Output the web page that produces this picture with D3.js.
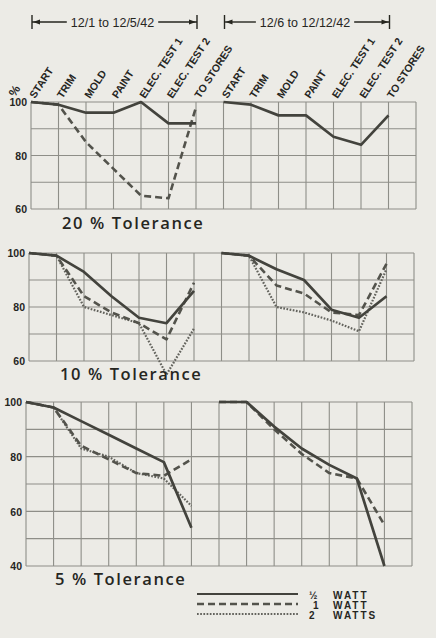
<!DOCTYPE html>
<html>
<head>
<meta charset="utf-8">
<script src="https://cdn.jsdelivr.net/npm/d3@7"></script>
<style>
  html, body { margin: 0; padding: 0; background: #ecebe6; }
  svg { display: block; }
</style>
</head>
<body>
<svg id="chart" width="436" height="638"></svg>
<script>
// Process stages, repeated for each production period
const categories = ["START", "TRIM", "MOLD", "PAINT", "ELEC. TEST 1", "ELEC. TEST 2", "TO STORES"];
const periods = ["12/1 to 12/5/42", "12/6 to 12/12/42"];
const tolerances = ["20 % Tolerance", "10 % Tolerance", "5 % Tolerance"];
const wattSizes = ["½", "1", "2"];
const wattUnits = ["WATT", "WATT", "WATTS"];

// Y tick labels per panel
const yTicks20 = [60, 80, 100];
const yTicks10 = [60, 80, 100];
const yTicks5 = [40, 60, 80, 100];

// Percent of resistors within tolerance at each stage
// 20 % tolerance
const tol20HalfWattP1 = [100, 99, 96, 96, 100, 92, 92];
const tol20HalfWattP2 = [100, 99, 95, 95, 87, 84, 95];
const tol20OneWattP1  = [100, 99, 85, 75, 65, 64, 98];
// 10 % tolerance
const tol10HalfWattP1  = [100, 99, 93, 84, 76, 74, 86];
const tol10HalfWattP2  = [100, 99, 94, 90, 79, 76, 84];
const tol10OneWattP1   = [100, 99, 84, 78, 74, 68, 89];
const tol10OneWattP2   = [100, 99, 88, 85, 78, 77, 96];
const tol10TwoWattsP1  = [100, 99, 80, 77, 74, 55, 72];
const tol10TwoWattsP2  = [100, 99, 80, 78, 75, 71, 94];
// 5 % tolerance
const tol5HalfWattP1  = [100, 98, 93, 88, 83, 78, 54];
const tol5HalfWattP2  = [100, 100, 91, 83, 77, 72, 40];
const tol5OneWattP1   = [100, 98, 84, 79, 74, 73, 79];
const tol5OneWattP2   = [100, 100, 90, 81, 74, 72, 55];
const tol5TwoWattsP1  = [100, 98, 83, 80, 74, 72, 62];

// series index: 0 = ½ watt, 1 = 1 watt, 2 = 2 watts; each holds [period 1, period 2]
const panels = [
  { title: tolerances[0], ticks: yTicks20,
    series: [[tol20HalfWattP1, tol20HalfWattP2], [tol20OneWattP1, null], [null, null]] },
  { title: tolerances[1], ticks: yTicks10,
    series: [[tol10HalfWattP1, tol10HalfWattP2], [tol10OneWattP1, tol10OneWattP2], [tol10TwoWattsP1, tol10TwoWattsP2]] },
  { title: tolerances[2], ticks: yTicks5,
    series: [[tol5HalfWattP1, tol5HalfWattP2], [tol5OneWattP1, tol5OneWattP2], [tol5TwoWattsP1, null]] }
];

// Panel geometry
const layout = [
  { x0: 31, x1: 416, yTop: 102, yBot: 209, titleX: 62, titleY: 229 },
  { x0: 29, x1: 414, yTop: 253, yBot: 361, titleX: 60, titleY: 380 },
  { x0: 26, x1: 412, yTop: 402, yBot: 566, titleX: 55, titleY: 585 }
];

const lineStyles = [
  { dash: null,      width: 2.7, color: "#43433d" },
  { dash: "7,4",     width: 2.6, color: "#53534c" },
  { dash: "1.7,1.5", width: 2.2, color: "#63635d" }
];

const ink = "#26261f";
const gridColor = "#8e8e88";
const svg = d3.select("#chart");

const keys = periods.flatMap((p, pi) => categories.map((c, ci) => pi + "|" + ci));

panels.forEach((panel, idx) => {
  const L = layout[idx];
  const step = (L.x1 - L.x0) / keys.length;
  const x = d3.scalePoint().domain(keys).range([L.x0, L.x1 - step]);
  const yMin = d3.min(panel.ticks);
  const y = d3.scaleLinear().domain([yMin, 100]).range([L.yBot, L.yTop]);
  const g = svg.append("g");

  // grid
  const hVals = d3.range(yMin, 100.001, 10);
  g.selectAll("line.h").data(hVals).join("line")
    .attr("x1", L.x0).attr("x2", L.x1)
    .attr("y1", d => y(d)).attr("y2", d => y(d))
    .attr("stroke", gridColor).attr("stroke-width", 1.1);
  const vPos = keys.map(k => x(k)).concat([L.x1]);
  g.selectAll("line.v").data(vPos).join("line")
    .attr("x1", d => d).attr("x2", d => d)
    .attr("y1", y(100)).attr("y2", y(yMin))
    .attr("stroke", gridColor).attr("stroke-width", 1.1);

  // y axis labels
  const axis = d3.axisLeft(y).tickValues(panel.ticks).tickSize(0).tickPadding(4).tickFormat(d3.format("d"));
  const ag = g.append("g").attr("transform", `translate(${L.x0},0)`).call(axis);
  ag.select(".domain").remove();
  ag.selectAll("text")
    .attr("fill", ink)
    .style("font-family", "'Liberation Sans', Arial, sans-serif")
    .style("font-weight", "bold")
    .style("font-size", "10.5px")
    .attr("dy", "0.35em");

  // series lines (dotted first, solid on top)
  [2, 1, 0].forEach(si => {
    panel.series[si].forEach((vals, pi) => {
      if (!vals) return;
      const line = d3.line()
        .x((d, ci) => x(pi + "|" + ci))
        .y(d => y(d));
      const st = lineStyles[si];
      g.append("path")
        .attr("d", line(vals))
        .attr("fill", "none")
        .attr("stroke", st.color)
        .attr("stroke-width", st.width)
        .attr("stroke-dasharray", st.dash)
        .attr("stroke-linejoin", "round");
    });
  });

  // panel title
  g.append("text")
    .attr("x", L.titleX).attr("y", L.titleY)
    .attr("fill", ink)
    .style("font-family", "'Open Sans', 'DejaVu Sans', sans-serif")
    .style("font-weight", 600)
    .style("font-size", "16.5px")
    .style("letter-spacing", "1.6px")
    .text(panel.title);

  // top panel: stage labels and period brackets
  if (idx === 0) {
    g.selectAll("text.cat").data(keys).join("text")
      .attr("transform", d => `translate(${x(d) + 4},${L.yTop - 3}) rotate(-57)`)
      .attr("fill", ink)
      .style("font-family", "'Liberation Sans', Arial, sans-serif")
      .style("font-weight", "bold")
      .style("font-size", "10.5px")
      .text(d => categories[+d.split("|")[1]]);

    g.append("text")
      .attr("transform", `translate(18,93) rotate(-57)`)
      .attr("text-anchor", "middle")
      .attr("fill", ink)
      .style("font-family", "'Liberation Sans', Arial, sans-serif")
      .style("font-weight", "bold")
      .style("font-size", "12px")
      .text("%");

    const by = 22;
    periods.forEach((p, pi) => {
      const xa = x(pi + "|0") + 1;
      const xb = x(pi + "|" + (categories.length - 1)) + 1;
      const mid = (xa + xb) / 2 - 2;
      const t = g.append("text")
        .attr("x", mid).attr("y", by + 4.5)
        .attr("text-anchor", "middle")
        .attr("fill", ink)
        .style("font-family", "'Liberation Sans', Arial, sans-serif")
        .style("font-size", "12.5px")
        .text(p);
      const tw = t.node().getComputedTextLength();
      const ta = mid - tw / 2 - 4, tb = mid + tw / 2 + 4;
      const hd = g.append("g").attr("stroke", ink).attr("stroke-width", 1.4).attr("fill", "none");
      hd.append("line").attr("x1", xa).attr("x2", xa).attr("y1", by - 7).attr("y2", by + 7);
      hd.append("line").attr("x1", xb).attr("x2", xb).attr("y1", by - 7).attr("y2", by + 7);
      hd.append("line").attr("x1", xa).attr("x2", ta).attr("y1", by).attr("y2", by);
      hd.append("line").attr("x1", tb).attr("x2", xb).attr("y1", by).attr("y2", by);
      g.append("path").attr("fill", ink)
        .attr("d", `M${xa + 1},${by} L${xa + 8},${by - 2.5} L${xa + 8},${by + 2.5} Z`);
      g.append("path").attr("fill", ink)
        .attr("d", `M${xb - 1},${by} L${xb - 8},${by - 2.5} L${xb - 8},${by + 2.5} Z`);
    });
  }
});

// legend
const lgX0 = 197, lgX1 = 298, lgY = [594, 604, 614];
lineStyles.forEach((st, i) => {
  svg.append("line")
    .attr("x1", lgX0).attr("x2", lgX1)
    .attr("y1", lgY[i]).attr("y2", lgY[i])
    .attr("stroke", st.color)
    .attr("stroke-width", i === 0 ? 2 : st.width - 0.3)
    .attr("stroke-dasharray", st.dash);
  svg.append("text")
    .attr("x", i === 1 ? 313 : 309).attr("y", lgY[i] + 5)
    .attr("fill", ink)
    .style("font-family", "'Liberation Sans', Arial, sans-serif")
    .style("font-weight", "bold")
    .style("font-size", "10px")
    .text(wattSizes[i]);
  svg.append("text")
    .attr("x", 333).attr("y", lgY[i] + 5)
    .attr("fill", ink)
    .style("font-family", "'Liberation Sans', Arial, sans-serif")
    .style("font-weight", "bold")
    .style("font-size", "10px")
    .style("letter-spacing", "2px")
    .text(wattUnits[i]);
});
</script>
</body>
</html>
